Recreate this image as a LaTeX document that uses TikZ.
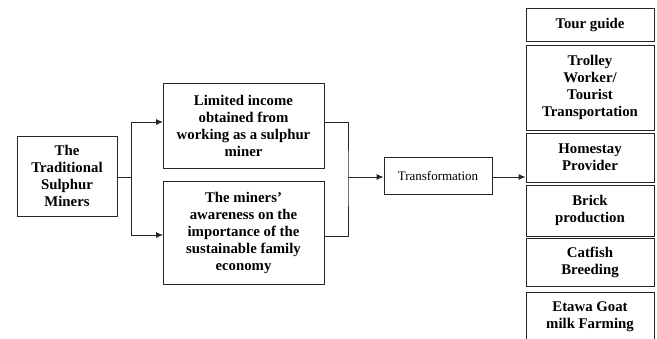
\documentclass[tikz,border=0pt]{standalone}
\usepackage{fontspec}
\setmainfont{Liberation Serif}
\usetikzlibrary{arrows.meta}
\begin{document}
\begin{tikzpicture}[x=1pt,y=-1pt,
  box/.style={draw=black!85,line width=0.9pt,inner sep=0pt,align=center,
    font=\fontsize{14.8}{17}\selectfont\bfseries},
  conn/.style={draw=black!85,line width=0.9pt},
  arr/.style={conn,-{Latex[length=7pt,width=6pt]}}]
\useasboundingbox (0,0) rectangle (657,338);
\node[box,minimum width=100,minimum height=80] (trad) at (67,176) {The\\Traditional\\Sulphur\\Miners};
\node[box,minimum width=161,minimum height=85] (limited) at (243.5,125.5) {Limited income\\obtained from\\working as a sulphur\\miner};
\node[box,minimum width=161,minimum height=103] (aware) at (243.5,232.5) {The miners'\\awareness on the\\importance of the\\sustainable family\\economy};
\node[box,minimum width=108,minimum height=37,font=\fontsize{13}{15}\selectfont] (trans) at (438,175.5) {Transformation};
\node[box,minimum width=128,minimum height=33] (tour) at (590,24.5) {Tour guide};
\node[box,minimum width=128,minimum height=85] (trolley) at (590,87.5) {Trolley\\Worker/\\Tourist\\Transportation};
\node[box,minimum width=128,minimum height=49] (home) at (590,157.5) {Homestay\\Provider};
\node[box,minimum width=128,minimum height=51] (brick) at (590,210.5) {Brick\\production};
\node[box,minimum width=128,minimum height=48] (catfish) at (590,262) {Catfish\\Breeding};
\node[box,minimum width=128,minimum height=50] (etawa) at (590,317) {Etawa Goat\\milk Farming};
\coordinate (j1) at (131,177);
\coordinate (j2) at (348,177);
\coordinate (l1) at (163,122);
\coordinate (l2) at (163,235);
\coordinate (r1) at (324,122);
\coordinate (r2) at (324,236);
\draw[conn] (trad.east |- j1) -- (j1);
\draw[arr] (j1) |- (l1);
\draw[arr] (j1) |- (l2);
\draw[conn] (r1) -| (j2) |- (r2);
\draw[arr] (j2) -- (j2 -| trans.west);
\draw[arr] ([yshift=-1.5]trans.east) -- ([yshift=-1.5]trans.east -| home.west);
\end{tikzpicture}
\end{document}
